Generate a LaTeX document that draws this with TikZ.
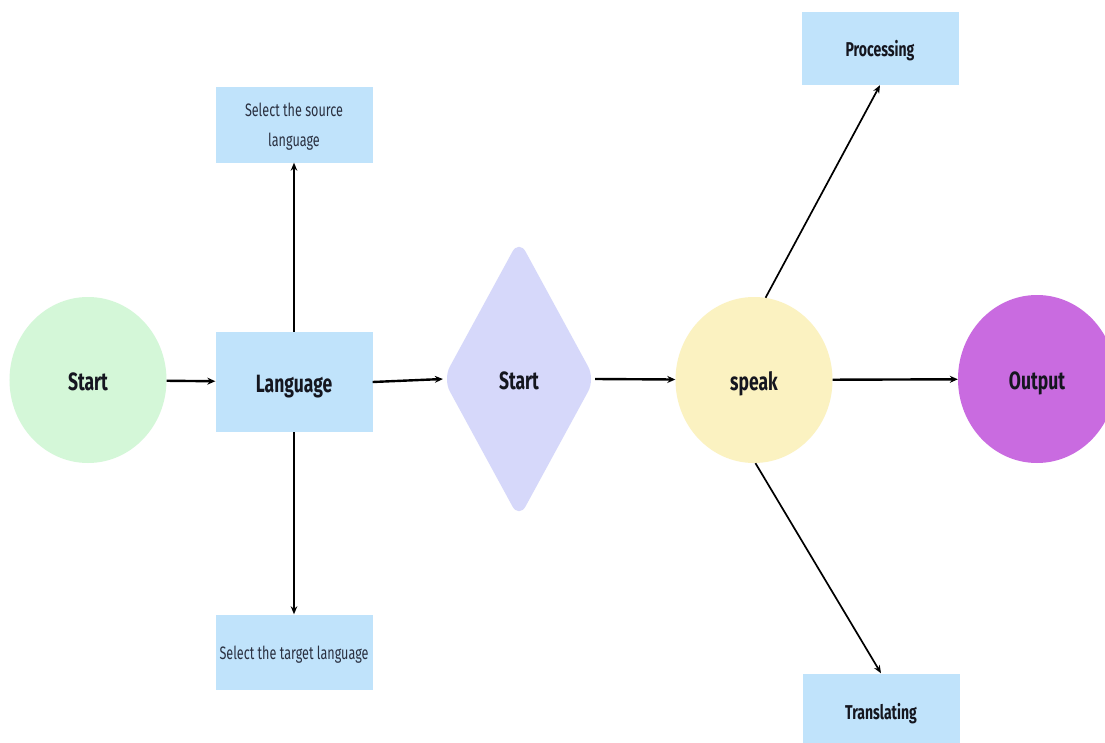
\documentclass[tikz,border=0pt]{standalone}
\usepackage{fontspec}
\usetikzlibrary{arrows.meta,shapes.geometric}
\newfontfamily\lblfont[FakeStretch=0.7]{Fira Sans}
\definecolor{cgreen}{HTML}{D4F7D8}
\definecolor{cblue}{HTML}{C0E3FB}
\definecolor{clav}{HTML}{D6D8FA}
\definecolor{cyel}{HTML}{FBF2C1}
\definecolor{cpur}{HTML}{C96BE0}
\definecolor{ctext}{HTML}{15161F}
\definecolor{csmall}{HTML}{2A3040}
\tikzset{
  circ/.style={ellipse, inner sep=0pt, minimum width=157bp, minimum height=166bp, draw=none},
  box/.style={rectangle, fill=cblue, draw=none, inner sep=0pt, minimum width=157bp, minimum height=75bp},
  bigtxt/.style={font=\lblfont\bfseries\fontsize{25bp}{30bp}\selectfont, text=ctext, text height=21.5bp, text depth=0bp},
  midtxt/.style={font=\lblfont\bfseries\fontsize{20bp}{26bp}\selectfont, text=ctext, text height=17bp, text depth=0bp},
  smalltxt/.style={font=\lblfont\fontsize{18bp}{30bp}\selectfont, text=csmall, align=center},
  conn/.style={-{Stealth[length=8bp,width=7bp]}, line width=2.4bp, black},
  thinconn/.style={-{Stealth[length=8bp,width=6.5bp]}, line width=1.7bp, black}
}
\begin{document}
\begin{tikzpicture}[x=1bp,y=-1bp]
\fill[white] (0,0) rectangle (1105,743);
\useasboundingbox (0,0) rectangle (1105,743);
\node[circ, fill=cgreen, bigtxt] (start) at (88,380) {Start};
\node[box, minimum height=100bp, bigtxt] (lang) at (294,382) {Language};
\node[box, smalltxt] (src) at (294,125) {\raisebox{-4bp}{\begin{tabular}{@{}c@{}}Select the source\\language\end{tabular}}};
\node[box, smalltxt, text height=15.5bp, text depth=0bp] (tgt) at (294,652) {Select the target language};
\node[diamond, aspect=0.545, minimum width=152bp, minimum height=279bp, inner sep=0pt,
      rounded corners=14bp, fill=clav, bigtxt] (dia) at (519,379) {Start};
\node[circ, fill=cyel, bigtxt] (speak) at (754,380) {speak};
\node[circ, fill=cpur, minimum width=158bp, minimum height=168bp, bigtxt] (out) at (1037,379) {Output};
\node[box, minimum height=73bp, midtxt] (proc) at (880,48.5) {Processing};
\node[box, midtxt] (trans) at (881,711) {Translating};
\draw[conn] (start) -- (lang);
\draw[conn] (lang.east) -- (dia.west);
\draw[conn] (dia.east) -- (speak);
\draw[conn] (speak) -- (out);
\draw[thinconn] (lang.north) -- (src.south);
\draw[thinconn] (lang.south) -- (tgt.north);
\draw[thinconn] (speak.82) -- (proc.south);
\draw[thinconn] (speak.-89) -- (trans.north);
\end{tikzpicture}
\end{document}
